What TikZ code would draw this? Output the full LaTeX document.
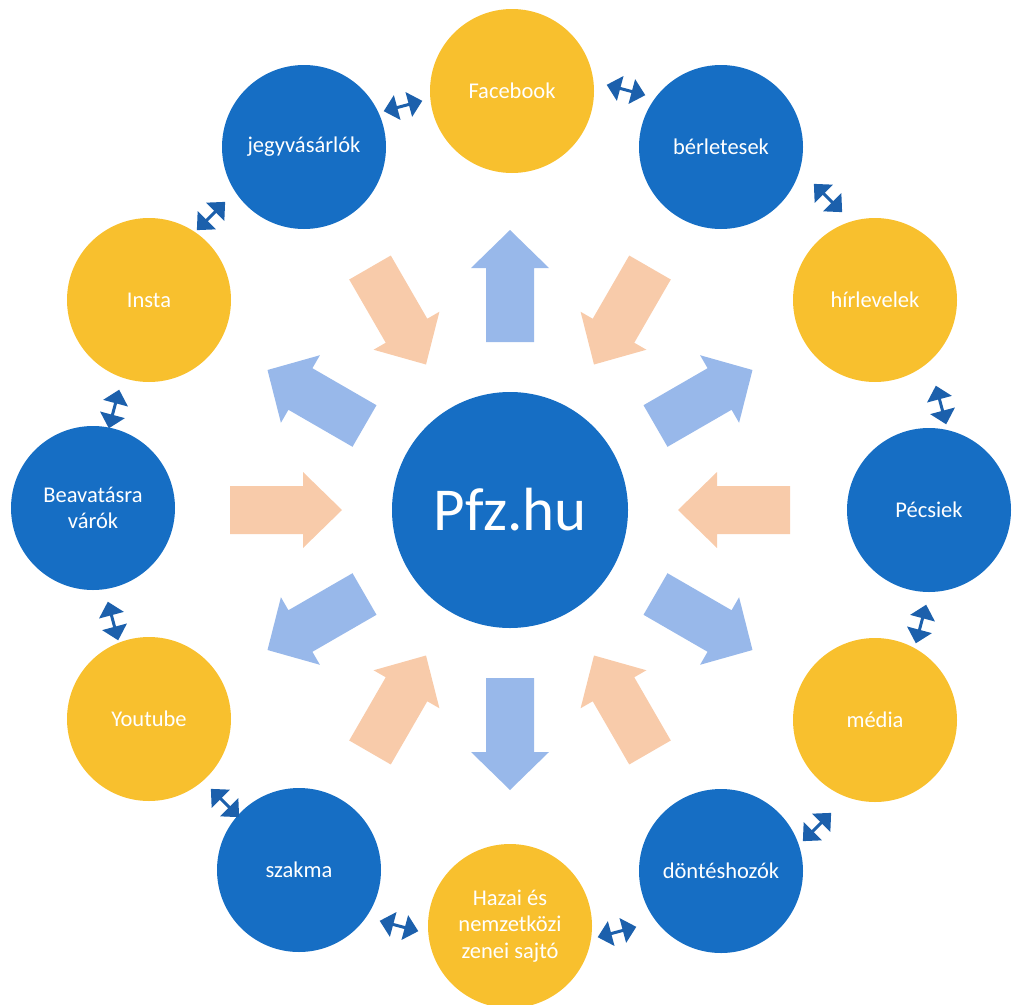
\documentclass[tikz,border=0pt]{standalone}
\usepackage{fontspec}
\setmainfont{Carlito}
\usetikzlibrary{arrows.meta,calc}
\definecolor{cblue}{RGB}{22,110,196}
\definecolor{cgold}{RGB}{248,192,46}
\definecolor{ablue}{RGB}{152,184,234}
\definecolor{aorange}{RGB}{248,203,170}
\definecolor{dblue}{RGB}{28,96,172}
\begin{document}
\begin{tikzpicture}[x=1pt,y=-1pt,
  bubble/.style={circle, minimum size=164pt, inner sep=0pt, text=white, align=center,
    font=\fontsize{22.5}{26.5}\selectfont},
  bluebub/.style={bubble, fill=cblue},
  goldbub/.style={bubble, fill=cgold},
  hubbub/.style={circle, minimum size=236pt, inner sep=0pt, fill=cblue, text=white,
    font=\fontsize{61}{70}\selectfont},
  link/.style={draw=dblue, line width=3pt,
    {Triangle[width=25pt,length=14pt]}-{Triangle[width=25pt,length=14pt]}},
  outarrow/.style={fill=ablue},
  inarrow/.style={fill=aorange}]
\useasboundingbox (0,0) rectangle (1012,1004);

% central node
\node[hubbub] (hub) at (510,510) {Pfz.hu};

% outer nodes
\node[goldbub] (fb)   at (512,91)  {Facebook};
\node[bluebub] (berl) at (721,147) {bérletesek};
\node[goldbub] (hirl) at (875,300) {hírlevelek};
\node[bluebub] (pecs) at (929,510) {Pécsiek};
\node[goldbub] (med)  at (875,720) {média};
\node[bluebub] (dont) at (721,871) {döntéshozók};
\node[goldbub] (haz)  at (510,926) {Hazai és\\nemzetközi\\zenei sajtó};
\node[bluebub] (szak) at (299,870) {szakma};
\node[goldbub] (yt)   at (149,719) {Youtube};
\node[bluebub] (beav) at (93,508)  {Beavatásra\\várók};
\node[goldbub] (ins)  at (149,300) {Insta};
\node[bluebub] (jegy) at (304,147) {jegyvásárlók};

% big inner arrows
\foreach \t in {0,60,120,180,240,300}{
  \fill[outarrow, shift={(hub.center)}, rotate=90-\t]
    (168,-24) -- (242,-24) -- (242,-39) -- (280,0) -- (242,39) -- (242,24) -- (168,24) -- cycle;
}
\foreach \t in {30,90,150,210,270,330}{
  \fill[inarrow, shift={(hub.center)}, rotate=90-\t]
    (280,-24) -- (207,-24) -- (207,-38) -- (168,0) -- (207,38) -- (207,24) -- (280,24) -- cycle;
}

% small double arrows between neighbours
\foreach \i/\cx/\cy/\t in {1/403/106/345, 2/626/90/15, 3/828/198/45, 4/941/405/75,
  5/921/624/105, 6/817/827/135, 7/617/932/165, 8/399/926/195, 9/225/803/225,
  10/113/621/255, 11/114/409/285, 12/211/216/315}{
  \coordinate (la\i) at ($(\cx,\cy)+(\t:20)$);
  \coordinate (lb\i) at ($(\cx,\cy)+(\t+180:20)$);
  \draw[link] (la\i) -- (lb\i);
}
\end{tikzpicture}
\end{document}
